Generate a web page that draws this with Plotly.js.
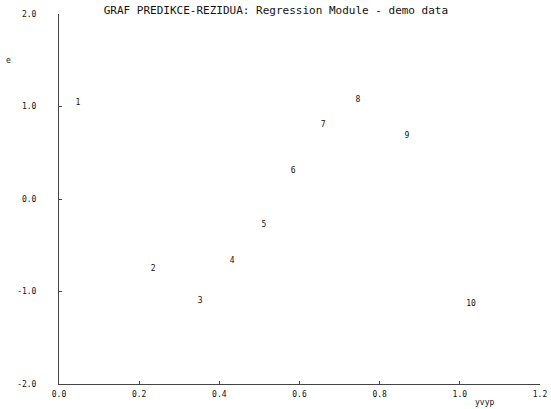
<!DOCTYPE html>
<html><head><meta charset="utf-8">
<script src="https://cdn.plot.ly/plotly-3.0.1.min.js"></script>
<style>body{margin:0;background:#fff}#c{width:551px;height:409px}</style>
</head><body><div id="c"></div>
<script>
const labels = ["1","2","3","4","5","6","7","8","9","10"];
const yvyp = [0.047,0.235,0.352,0.432,0.511,0.584,0.659,0.746,0.868,1.028];
const e = [1.04,-0.76,-1.10,-0.67,-0.28,0.30,0.80,1.07,0.68,-1.14];
const xTickVals = [0,0.2,0.4,0.6,0.8,1.0,1.2];
const xTickText = ["0.0","0.2","0.4","0.6","0.8","1.0","1.2"];
const yTickVals = [-2,-1,0,1,2];
const yTickText = ["-2.0","-1.0","0.0","1.0","2.0"];
const titleText = "GRAF PREDIKCE-REZIDUA: Regression Module - demo data";
const xTitle = "yvyp", yTitle = "e";

const mono = "DejaVu Sans Mono, monospace";
const trace = {
  x: yvyp, y: e, text: labels, mode: "text", type: "scatter",
  textposition: "middle center",
  textfont: {family: mono, size: 8, color: "#111"},
  hoverinfo: "none", cliponaxis: false
};
const layout = {
  width: 551, height: 409,
  margin: {l: 59, r: 11, t: 14, b: 25},
  paper_bgcolor: "#fff", plot_bgcolor: "#fff",
  showlegend: false,
  title: {text: titleText, font: {family: mono, size: 11, color: "#111"},
          x: 0.451, xanchor: "center", y: 0.975, yanchor: "middle", xref: "paper", yref: "container"},
  xaxis: {range: [0, 1.2], tickvals: xTickVals, ticktext: xTickText,
          showgrid: false, zeroline: false, showline: true, linecolor: "#444", linewidth: 1,
          ticks: "inside", ticklen: 3, tickcolor: "#444",
          tickfont: {family: mono, size: 8, color: "#111"}, ticklabelstandoff: 2},
  yaxis: {range: [-2, 2], tickvals: yTickVals, ticktext: yTickText,
          showgrid: false, zeroline: false, showline: true, linecolor: "#444", linewidth: 1,
          ticks: "inside", ticklen: 3, tickcolor: "#444",
          tickfont: {family: mono, size: 8, color: "#111"}, ticklabelstandoff: 20},
  annotations: [
    {text: yTitle, xref: "paper", yref: "paper", x: -0.104, y: 0.873, xanchor: "center", yanchor: "middle",
     showarrow: false, font: {family: mono, size: 8, color: "#111"}},
    {text: xTitle, xref: "paper", yref: "paper", x: 0.885, y: -0.051, xanchor: "center", yanchor: "middle",
     showarrow: false, font: {family: mono, size: 8, color: "#111"}}
  ]
};
Plotly.newPlot("c", [trace], layout, {staticPlot: true, displayModeBar: false});
</script></body></html>
